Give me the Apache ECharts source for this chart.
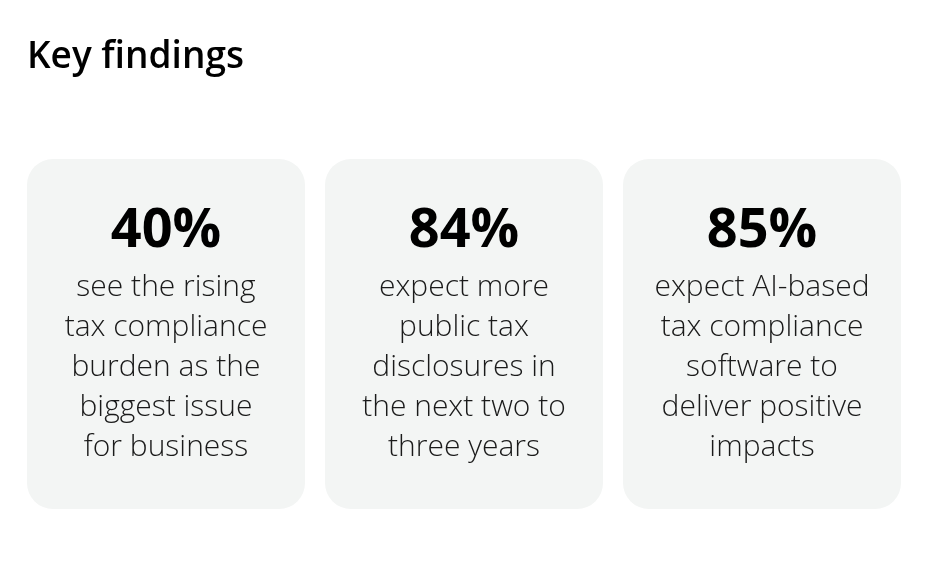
<!DOCTYPE html>
<html>
<head>
<meta charset="utf-8">
<style>
  html, body { margin: 0; padding: 0; background: #fff; }
  #chart { width: 946px; height: 562px; }
</style>
<script src="https://cdn.jsdelivr.net/npm/echarts@6/dist/echarts.min.js"></script>
</head>
<body>
<div id="chart"></div>
<script>
// data
const cards = ['card1', 'card2', 'card3']
const percents = [40, 84, 85]
const captions = [
  ['see the rising', 'tax compliance', 'burden as the', 'biggest issue', 'for business'],
  ['expect more', 'public tax', 'disclosures in', 'the next two to', 'three years'],
  ['expect AI-based', 'tax compliance', 'software to', 'deliver positive', 'impacts']
]

const FONT = '"Open Sans", "Noto Sans", sans-serif'
const chart = echarts.init(document.getElementById('chart'))

const renderCard = (params, api) => {
  const i = api.value(0)
  const top = api.coord([i, 1])
  const bottom = api.coord([i, 0])
  const w = api.size([1, 0])[0] - 20
  const cx = top[0]
  const children = [
    {
      type: 'rect',
      shape: { x: cx - w / 2, y: top[1], width: w, height: bottom[1] - top[1], r: 26 },
      style: { fill: '#f3f5f4' }
    },
    {
      type: 'text',
      style: {
        x: cx, y: top[1] + 100, text: api.value(1) + '%',
        align: 'center', verticalAlign: 'bottom',
        font: 'bold 54px ' + FONT, fill: '#000'
      }
    }
  ]
  captions[i].forEach((line, k) => {
    children.push({
      type: 'text',
      style: {
        x: cx, y: top[1] + 143 + k * 40, text: line,
        align: 'center', verticalAlign: 'bottom',
        font: '300 30px ' + FONT, fill: '#1a1a1a'
      }
    })
  })
  return { type: 'group', children }
}

chart.setOption({
  animation: false,
  title: {
    text: 'Key findings',
    left: 22, top: 34,
    textStyle: { fontFamily: FONT, fontWeight: 600, fontSize: 37, color: '#000' }
  },
  grid: { left: 17, right: 35, top: 159, bottom: 53 },
  xAxis: { type: 'category', data: cards, show: false },
  yAxis: { type: 'value', min: 0, max: 1, show: false },
  series: [{
    type: 'custom',
    renderItem: renderCard,
    encode: { x: 0, y: 1 },
    data: percents.map((p, i) => [i, p])
  }]
})
</script>
</body>
</html>
